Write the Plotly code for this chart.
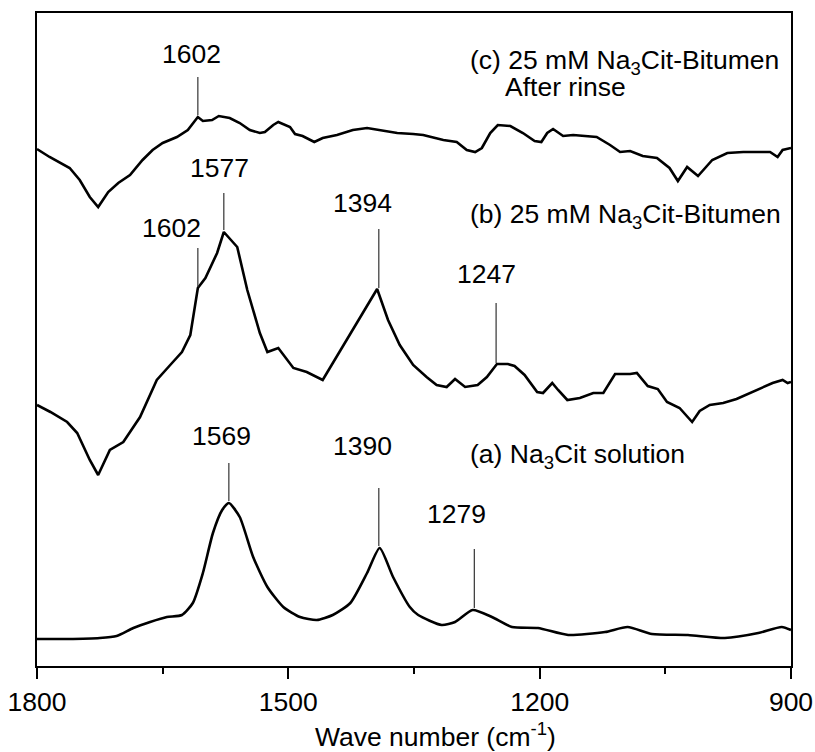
import plotly.graph_objects as go

# ---- data (wavenumber in cm-1, intensity in arbitrary offset units) ----
c_wn = [1800, 1785, 1761, 1749, 1737, 1727, 1715, 1703, 1689, 1674, 1662, 1650, 1633, 1620, 1608,
        1602, 1591, 1583, 1570, 1558, 1546, 1534, 1528, 1518, 1512, 1504, 1498, 1492, 1483, 1469,
        1459, 1442, 1423, 1406, 1391, 1370, 1351, 1339, 1315, 1299, 1287, 1277, 1269, 1259, 1250,
        1235, 1220, 1206, 1198, 1191, 1184, 1172, 1160, 1132, 1116, 1104, 1092, 1077, 1060, 1045,
        1035, 1024, 1011, 994, 976, 957, 937, 925, 916, 910, 900]
c_int = [517, 509, 498, 486, 469, 459, 474, 483, 491, 506, 516, 523, 529, 536, 549,
         545, 546, 550, 548, 543, 536, 533, 534, 541, 544, 541, 539, 532, 530, 524,
         528, 531, 536, 538, 536, 533, 532, 531, 526, 524, 516, 514, 518, 533, 541,
         540, 533, 525, 524, 533, 537, 530, 531, 529, 521, 514, 515, 510, 508, 498,
         485, 499, 490, 506, 513, 514, 514, 514, 509, 516, 518]

b_wn = [1800, 1784, 1764, 1752, 1737, 1727, 1713, 1697, 1677, 1657, 1641, 1627, 1617, 1608, 1599,
        1585, 1577, 1561, 1549, 1534, 1525, 1512, 1494, 1478, 1459, 1435, 1414, 1394, 1381, 1367,
        1351, 1335, 1323, 1311, 1301, 1289, 1274, 1263, 1251, 1238, 1230, 1218, 1203, 1196, 1185,
        1178, 1167, 1152, 1136, 1124, 1110, 1092, 1084, 1071, 1059, 1048, 1033, 1018, 1009, 997,
        981, 965, 949, 934, 922, 910, 904, 900]
b_int = [261, 254, 244, 233, 206, 191, 216, 224, 249, 286, 301, 314, 331, 378, 388,
         413, 434, 419, 376, 333, 314, 318, 298, 294, 286, 319, 349, 377, 346, 321,
         301, 289, 281, 279, 287, 279, 281, 289, 302, 302, 300, 291, 274, 273, 283,
         276, 266, 268, 273, 273, 292, 292, 293, 280, 277, 264, 258, 244, 255, 261,
         263, 267, 273, 278, 283, 286, 283, 284]

a_wn = [1800, 1764, 1725, 1705, 1685, 1665, 1645, 1627, 1614, 1602, 1590, 1579, 1571, 1558, 1542,
        1525, 1506, 1486, 1466, 1447, 1426, 1406, 1391, 1375, 1355, 1345, 1317, 1301, 1280, 1257,
        1233, 1202, 1166, 1122, 1095, 1066, 1023, 979, 939, 911, 900]
a_int = [27, 27, 28, 30, 38, 44, 49, 51, 63, 93, 133, 156, 163, 149, 109,
         79, 59, 49, 46, 51, 63, 93, 118, 89, 59, 51, 41, 44, 56, 49,
         39, 38, 31, 34, 39, 32, 31, 28, 33, 39, 36]

peak_labels = ["1602", "1577", "1602", "1394", "1247", "1569", "1390", "1279"]
tick_vals = [1800, 1500, 1200, 900]
tick_text = ["1800", "1500", "1200", "900"]

# ---- annotation placement (line x, line top, line bottom, label x, label y) ----
peak_pos = [
    (1608, 589, 551, 1616, 612),
    (1577, 473, 436, 1582, 498),
    (1608, 418, 379, 1640, 438),
    (1392, 437, 378, 1412, 463),
    (1252, 363, 303, 1264, 392),
    (1571, 203, 165, 1580, 230),
    (1392, 178, 120, 1412, 220),
    (1278, 117, 58, 1299, 152),
]

FONT = "Liberation Sans, Arial, sans-serif"
FS = 26.5
fig = go.Figure()
for wn, it, shp in [(c_wn, c_int, "linear"), (b_wn, b_int, "linear"), (a_wn, a_int, "spline")]:
    line = dict(color="black", width=2.6, shape=shp)
    if shp == "spline":
        line["smoothing"] = 0.6
    fig.add_trace(go.Scatter(x=wn, y=it, mode="lines", line=line,
                             showlegend=False, hoverinfo="skip"))

annotations = []
shapes = []
for lab, (lx, ltop, lbot, tx, ty) in zip(peak_labels, peak_pos):
    shapes.append(dict(type="line", xref="x", yref="y", x0=lx, x1=lx, y0=lbot, y1=ltop,
                       line=dict(color="#333333", width=1.2)))
    annotations.append(dict(x=tx, y=ty, xref="x", yref="y", text=lab, showarrow=False,
                            xanchor="center", yanchor="middle",
                            font=dict(size=FS, color="black", family=FONT)))

series_labels = [
    ("(c) 25 mM Na<sub>3</sub>Cit-Bitumen", 1286, 604),
    ("After rinse", 1244, 579),
    ("(b) 25 mM Na<sub>3</sub>Cit-Bitumen", 1286, 450),
    ("(a) Na<sub>3</sub>Cit solution", 1286, 210),
]
for txt, x, y in series_labels:
    annotations.append(dict(x=x, y=y, xref="x", yref="y", text=txt, showarrow=False,
                            xanchor="left", yanchor="middle",
                            font=dict(size=FS, color="black", family=FONT)))

annotations.append(dict(x=0.5285, y=-0.105, xref="paper", yref="paper",
                        text="Wave number (cm<sup>-1</sup>)", showarrow=False,
                        xanchor="center", yanchor="middle",
                        font=dict(size=FS, color="black", family=FONT)))

fig.update_layout(
    width=815, height=752,
    margin=dict(l=37, r=24, t=13, b=86),
    paper_bgcolor="white", plot_bgcolor="white",
    font=dict(family=FONT, size=FS, color="black"),
    annotations=annotations, shapes=shapes,
    xaxis=dict(range=[1800, 900], tickvals=tick_vals, ticktext=tick_text,
               ticks="outside", ticklen=11, tickwidth=2, tickcolor="black",
               ticklabelstandoff=0,
               showline=True, linewidth=2, linecolor="black", mirror=True,
               showgrid=False, zeroline=False, automargin=False,
               minor=dict(tickvals=[1650, 1350, 1050], ticks="outside", ticklen=6,
                          tickwidth=2, tickcolor="black", showgrid=False),
               tickfont=dict(size=FS, family=FONT)),
    yaxis=dict(range=[0, 653], showticklabels=False, ticks="",
               showline=True, linewidth=2, linecolor="black", mirror=True,
               showgrid=False, zeroline=False, automargin=False),
)

fig.write_html("out.html")
